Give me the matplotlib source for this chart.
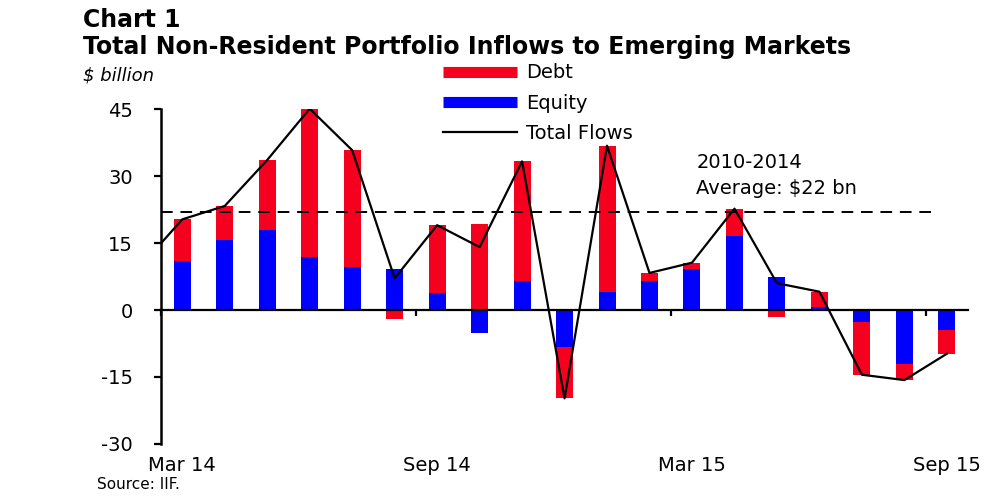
"""Chart 1: total non-resident portfolio inflows to emerging markets (IIF)."""
import numpy as np
import matplotlib
matplotlib.use("Agg")
import matplotlib.pyplot as plt
from matplotlib.lines import Line2D

plt.rcParams["font.family"] = ["DejaVu Sans"]
plt.rcParams["axes.unicode_minus"] = False

RED = "#f5001e"
BLUE = "#0000ff"

months = ["Mar 14", "Apr 14", "May 14", "Jun 14", "Jul 14", "Aug 14", "Sep 14",
          "Oct 14", "Nov 14", "Dec 14", "Jan 15", "Feb 15", "Mar 15", "Apr 15",
          "May 15", "Jun 15", "Jul 15", "Aug 15", "Sep 15"]
equity = [11.0, 15.7, 17.9, 11.9, 9.7, 9.2, 3.7, -5.1, 6.6, -8.4,
          4.0, 6.6, 9.1, 16.6, 7.5, 0.7, -2.6, -12.1, -4.5]
debt = [9.3, 7.6, 15.7, 33.2, 26.1, -2.1, 15.3, 19.2, 26.7, -11.4,
        32.8, 1.7, 1.5, 6.1, -1.5, 3.4, -11.9, -3.6, -5.3]
# total flows line starts one month earlier (Feb 14), cut off by the axis
total_months = ["Feb 14"] + months
total = [9.6, 20.3, 23.3, 33.6, 45.1, 35.8, 7.1, 19.0, 14.1, 33.3, -19.8,
         36.8, 8.3, 10.6, 22.7, 6.0, 4.1, -14.5, -15.7, -9.8]
avg_2010_2014 = 22
labelled = ["Mar 14", "Sep 14", "Mar 15", "Sep 15"]
yticks = [45, 30, 15, 0, -15, -30]


def stacked_bars(ax, x, series, colors, width=0.4):
    """Stack positives up from zero and negatives down from zero."""
    pos = np.zeros(len(x))
    neg = np.zeros(len(x))
    for vals, c in zip(series, colors):
        vals = np.asarray(vals)
        bottom = np.where(vals >= 0, pos, neg)
        ax.bar(x, vals, width=width, bottom=bottom, color=c, linewidth=0)
        pos += np.clip(vals, 0, None)
        neg += np.clip(vals, None, 0)


fig = plt.figure(figsize=(9.97, 4.96), dpi=100)
ax = fig.add_axes([0.1615, 0.105, 0.8095, 0.675])

x = np.arange(len(months))
stacked_bars(ax, x, [equity, debt], [BLUE, RED])

xt = np.arange(len(total_months)) - 1
ax.plot(xt, total, color="black", lw=1.6, zorder=4)
ax.hlines(avg_2010_2014, -0.5, 17.8, colors="black", lw=1.4,
          linestyles=(0, (6, 4)), zorder=3)
ax.text(12.1, 33.1, "2010-2014", fontsize=14, va="center", ha="left")
ax.text(12.1, 27.3, "Average: \\$22 bn", fontsize=14, va="center", ha="left")

ax.set_xlim(-0.5, 18.5)
ax.set_ylim(-30, 45)

for s in ["top", "right"]:
    ax.spines[s].set_visible(False)
ax.spines["bottom"].set_position(("data", 0))
ax.spines["bottom"].set_linewidth(1.6)
ax.spines["left"].set_linewidth(1.8)

ax.set_yticks(yticks)
ax.set_yticklabels([str(v) for v in yticks], fontsize=14)
ax.tick_params(axis="y", direction="out", length=5, width=1.6, pad=15)

idx = [months.index(m) for m in labelled]
ax.set_xticks([i - 0.5 for i in idx])
ax.set_xticklabels([])
ax.tick_params(axis="x", direction="out", length=4, width=1.6)
for i, m in zip(idx, labelled):
    ax.text(i, -0.065, m, transform=ax.get_xaxis_transform(), fontsize=14,
            ha="center", va="center")

fig.text(0.083, 0.959, "Chart 1", fontsize=17, fontweight="bold", va="center")
fig.text(0.083, 0.905, "Total Non-Resident Portfolio Inflows to Emerging Markets",
         fontsize=17, fontweight="bold", va="center")
fig.text(0.083, 0.847, "\\$ billion", fontsize=13, style="italic", va="center")
fig.text(0.097, 0.024, "Source: IIF.", fontsize=11, va="center")

handles = [Line2D([], [], color=RED, lw=8, solid_capstyle="butt"),
           Line2D([], [], color=BLUE, lw=8, solid_capstyle="butt"),
           Line2D([], [], color="black", lw=1.6)]
fig.legend(handles, ["Debt", "Equity", "Total Flows"], loc="upper left",
           bbox_to_anchor=(0.444, 0.872), frameon=False, fontsize=14,
           handlelength=3.8, handletextpad=0.5, labelspacing=0.58,
           borderaxespad=0, borderpad=0)

fig.savefig("out.png", dpi=100)
